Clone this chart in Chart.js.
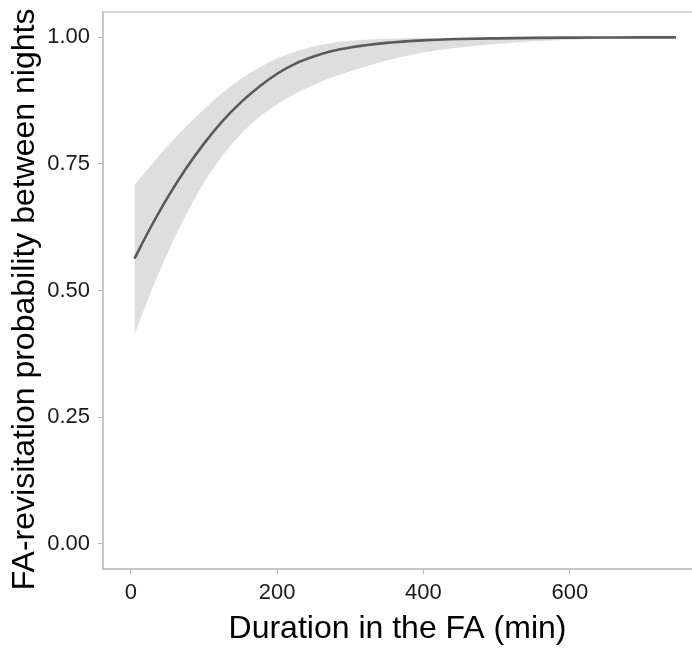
<!DOCTYPE html>
<html>
<head>
<meta charset="utf-8">
<script src="https://cdn.jsdelivr.net/npm/chart.js@4/dist/chart.umd.min.js"></script>
<style>
  html, body { margin: 0; padding: 0; background: #ffffff; }
  #wrap { width: 692px; height: 668px; }
</style>
</head>
<body>
<div id="wrap"><canvas id="c" width="692" height="668"></canvas></div>
<script>
// Duration in the FA (min)
const durations = [5, 25, 50, 75, 100, 125, 150, 175, 200, 225, 250, 275, 300, 350, 400, 450, 500, 550, 600, 650, 700, 745];
// fitted FA-revisitation probability
const fitted = [0.563, 0.619, 0.683, 0.740, 0.790, 0.834, 0.871, 0.902, 0.928, 0.948, 0.962, 0.973, 0.980, 0.989, 0.9940, 0.9966, 0.9980, 0.9989, 0.9994, 0.9997, 0.9998, 0.9999];
// confidence band
const upper = [0.708, 0.743, 0.785, 0.823, 0.858, 0.890, 0.917, 0.940, 0.958, 0.972, 0.982, 0.989, 0.993, 0.9970, 0.9986, 0.9993, 0.9997, 0.9998, 0.9999, 1.0, 1.0, 1.0];
const lower = [0.412, 0.488, 0.573, 0.648, 0.713, 0.766, 0.808, 0.842, 0.868, 0.889, 0.906, 0.921, 0.933, 0.954, 0.970, 0.980, 0.987, 0.992, 0.995, 0.997, 0.998, 0.9987];
// tick labels
const xTicks = [0, 200, 400, 600];
const yTicks = [0, 0.25, 0.5, 0.75, 1.0];

const toPts = arr => durations.map((d, i) => ({ x: d, y: arr[i] }));

const topBorder = {
  id: 'topBorder',
  afterDraw(chart) {
    const { ctx, chartArea } = chart;
    ctx.save();
    ctx.strokeStyle = '#cccccc';
    ctx.lineWidth = 1.5;
    ctx.beginPath();
    ctx.moveTo(chartArea.left, chartArea.top);
    ctx.lineTo(chartArea.right, chartArea.top);
    ctx.stroke();
    ctx.restore();
  }
};

const tickFont = { family: "'Liberation Sans', Arial, sans-serif", size: 22 };
const titleFont = { family: "'Liberation Sans', Arial, sans-serif", size: 32 };

new Chart(document.getElementById('c'), {
  type: 'line',
  data: {
    datasets: [
      {
        label: 'fit',
        data: toPts(fitted),
        borderColor: '#5a5a5a',
        borderWidth: 2.6,
        pointRadius: 0,
        cubicInterpolationMode: 'monotone',
        fill: false
      },
      {
        label: 'upper',
        data: toPts(upper),
        borderWidth: 0,
        borderColor: 'rgba(0,0,0,0)',
        backgroundColor: '#dedede',
        pointRadius: 0,
        cubicInterpolationMode: 'monotone',
        fill: '+1'
      },
      {
        label: 'lower',
        data: toPts(lower),
        borderWidth: 0,
        borderColor: 'rgba(0,0,0,0)',
        pointRadius: 0,
        cubicInterpolationMode: 'monotone',
        fill: false
      }
    ]
  },
  options: {
    responsive: false,
    animation: false,
    devicePixelRatio: 1,
    layout: { padding: { top: 12, right: 0, left: 0, bottom: 0 } },
    plugins: { legend: { display: false }, tooltip: { enabled: false } },
    scales: {
      x: {
        type: 'linear',
        min: -38,
        max: 767,
        afterFit(scale) { scale.height = 99; scale.paddingLeft = 0; scale.paddingRight = 0; },
        afterBuildTicks(scale) { scale.ticks = xTicks.map(v => ({ value: v })); },
        ticks: { font: tickFont, color: '#1a1a1a', padding: 6, maxRotation: 0 },
        grid: { drawOnChartArea: false, color: '#b5b5b5', tickLength: 5, tickWidth: 1 },
        border: { display: true, color: '#c6c6c6', width: 2 },
        title: { display: true, text: 'Duration in the FA (min)', font: titleFont, color: '#000000', padding: { top: 0, bottom: 20 } }
      },
      y: {
        type: 'linear',
        min: -0.05,
        max: 1.05,
        afterFit(scale) { scale.width = 103; scale.paddingTop = 0; scale.paddingBottom = 0; },
        afterBuildTicks(scale) { scale.ticks = yTicks.map(v => ({ value: v })); },
        ticks: { font: tickFont, color: '#1a1a1a', padding: 8, callback: v => Number(v).toFixed(2) },
        grid: { drawOnChartArea: false, color: '#b5b5b5', tickLength: 5, tickWidth: 1 },
        border: { display: true, color: '#c6c6c6', width: 2 },
        title: { display: true, text: 'FA-revisitation probability between nights  ', font: titleFont, color: '#000000', padding: { top: 6, bottom: 0 } }
      }
    }
  },
  plugins: [topBorder]
});
</script>
</body>
</html>
